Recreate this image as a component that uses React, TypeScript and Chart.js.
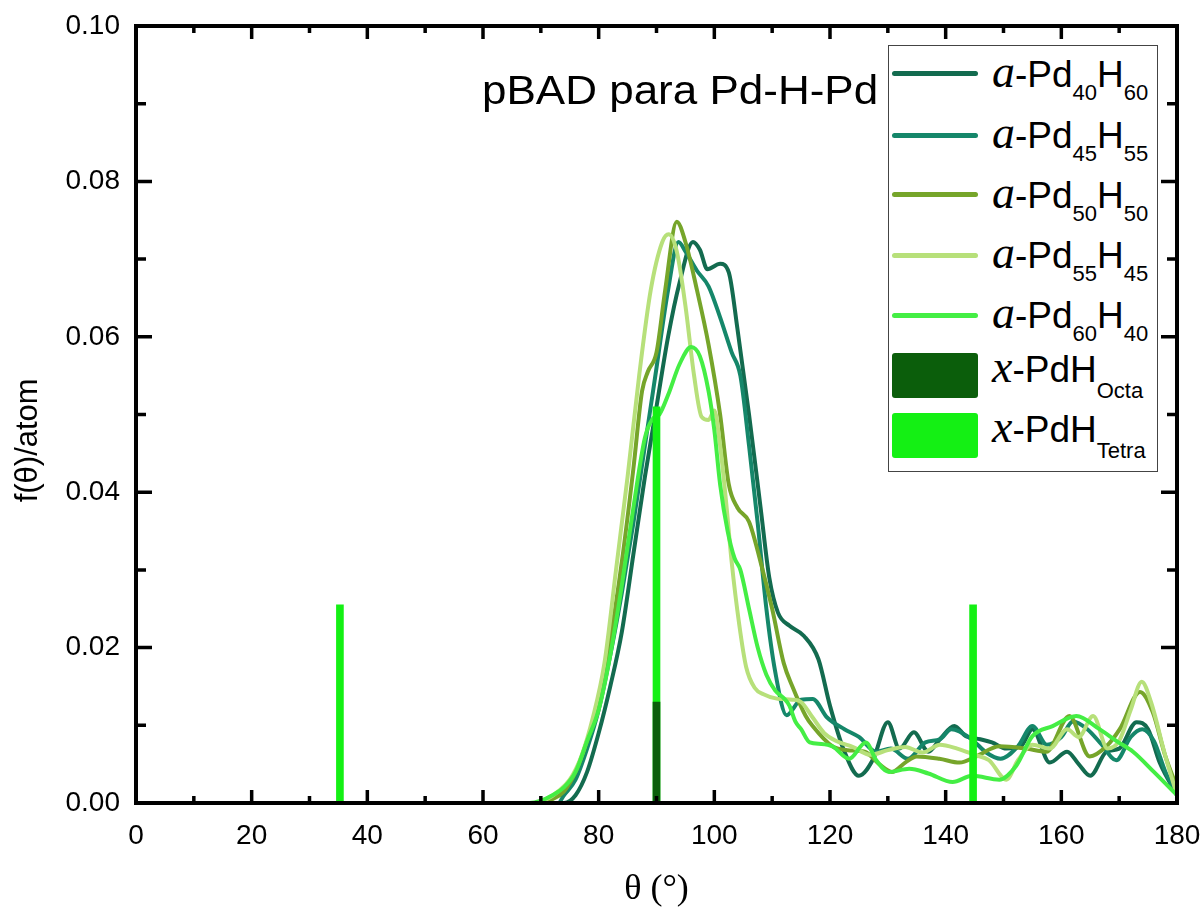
import React, { useEffect, useRef } from 'react';
import { Chart, registerables } from 'chart.js';

Chart.register(...registerables);

// ---- data ----
const pd40h60Angles = [0, 74, 76, 78, 80, 82, 84, 86, 88, 90, 92, 94, 96.3, 97.5, 98.8, 101, 102.5, 104, 106, 108, 109.5, 111, 113, 115.5, 118, 120, 122.5, 125, 127.5, 130, 132, 134.5, 137, 139, 141.5, 143.5, 146, 148, 150.5, 153, 155, 158, 161, 163, 165, 167.8, 170, 173, 175, 177, 180];
const pd40h60Values = [0, 0, 0.001, 0.004, 0.009, 0.015, 0.022, 0.032, 0.042, 0.051, 0.06, 0.067, 0.0722, 0.0712, 0.0687, 0.0694, 0.0683, 0.061, 0.05, 0.038, 0.029, 0.0245, 0.0228, 0.0215, 0.0185, 0.0125, 0.0066, 0.0035, 0.0057, 0.0104, 0.007, 0.0091, 0.0066, 0.0082, 0.0099, 0.0086, 0.0082, 0.0078, 0.007, 0.0073, 0.0095, 0.0052, 0.0066, 0.005, 0.0035, 0.0066, 0.007, 0.0104, 0.0095, 0.0052, 0.001];

const pd45h55Angles = [0, 73, 74, 76, 78, 80, 82, 84, 86, 88, 90, 92, 93.8, 95, 97, 99, 101, 103, 104.5, 106, 107.5, 109, 110.5, 112.5, 115, 117, 119.5, 122.5, 125, 128, 130.5, 133.5, 136.5, 139, 141, 144.5, 147, 149.5, 152.5, 155, 157.5, 160, 162, 164.5, 167, 169.5, 172, 174, 176, 178, 180];
const pd45h55Values = [0, 0, 0.001, 0.003, 0.007, 0.012, 0.019, 0.027, 0.036, 0.046, 0.056, 0.066, 0.0722, 0.071, 0.0685, 0.0665, 0.0625, 0.058, 0.055, 0.046, 0.036, 0.025, 0.017, 0.0113, 0.0133, 0.0134, 0.011, 0.0095, 0.0085, 0.0066, 0.007, 0.0057, 0.0078, 0.0082, 0.0095, 0.0082, 0.0065, 0.0057, 0.0073, 0.0099, 0.0075, 0.0085, 0.0105, 0.0095, 0.0075, 0.0055, 0.0085, 0.0095, 0.008, 0.004, 0.001];

const pd50h50Angles = [0, 70, 72, 74, 76, 78, 80, 82, 84, 86, 87.5, 88.5, 90, 91.5, 93.5, 95, 97, 99, 101, 102.5, 104, 106, 108, 110, 112, 113.5, 115.8, 117, 120.4, 123, 126, 128.5, 130.7, 133, 135, 138.9, 142.4, 145.3, 149.3, 153.9, 157.4, 161.4, 164.9, 167.8, 170.1, 173.6, 175.8, 178, 180];
const pd50h50Values = [0, 0, 0.0005, 0.0015, 0.004, 0.008, 0.013, 0.021, 0.031, 0.043, 0.053, 0.0555, 0.058, 0.066, 0.0748, 0.0722, 0.066, 0.059, 0.05, 0.041, 0.038, 0.0362, 0.031, 0.025, 0.018, 0.015, 0.0112, 0.0099, 0.0073, 0.0068, 0.0066, 0.005, 0.004, 0.0052, 0.006, 0.0057, 0.0052, 0.006, 0.0073, 0.007, 0.0066, 0.0112, 0.006, 0.0073, 0.0095, 0.0143, 0.0117, 0.006, 0.002];

const pd55h45Angles = [0, 69, 71, 73, 75, 77, 79, 81, 83, 85, 87, 89, 91, 92.1, 93.5, 95, 96.5, 97.8, 99, 100, 101, 102, 103, 104.3, 105.5, 107, 108.5, 111, 113.5, 115, 117, 119, 121, 124, 127, 130, 133, 136, 139, 142, 145, 147.5, 150.5, 152.5, 155, 158, 161, 163, 165.5, 168, 170, 172, 173.9, 175.5, 178, 180];
const pd55h45Values = [0, 0, 0.0005, 0.0015, 0.003, 0.006, 0.011, 0.018, 0.03, 0.042, 0.055, 0.066, 0.0722, 0.0732, 0.071, 0.064, 0.055, 0.0497, 0.0493, 0.0505, 0.046, 0.039, 0.031, 0.023, 0.0175, 0.0148, 0.014, 0.0134, 0.0133, 0.013, 0.011, 0.009, 0.008, 0.0072, 0.0062, 0.0068, 0.0072, 0.0065, 0.0075, 0.007, 0.0062, 0.0055, 0.003, 0.0055, 0.0075, 0.007, 0.0095, 0.0085, 0.0112, 0.007, 0.008, 0.012, 0.0156, 0.013, 0.006, 0.001];

const pd60h40Angles = [0, 68, 70, 72, 74, 76, 78, 80, 82, 84, 86, 88, 89.3, 90.5, 92, 94, 96, 97.5, 99, 100, 101, 102.3, 103.5, 104.5, 106, 107.5, 109, 110.5, 112, 113, 114, 115, 116.5, 118.5, 120.4, 123.3, 126.2, 128, 130.2, 133.7, 137, 141.2, 144.6, 149.3, 152.2, 155, 158.5, 162.6, 166.6, 169.5, 172.4, 176, 180];
const pd60h40Values = [0, 0, 0.0003, 0.001, 0.002, 0.004, 0.008, 0.012, 0.019, 0.028, 0.038, 0.047, 0.0494, 0.05, 0.0525, 0.0565, 0.0587, 0.0575, 0.053, 0.048, 0.041, 0.035, 0.0315, 0.03, 0.025, 0.02, 0.0165, 0.0145, 0.0135, 0.0125, 0.0105, 0.0095, 0.0078, 0.0076, 0.0073, 0.0057, 0.0078, 0.0055, 0.004, 0.0044, 0.0038, 0.0027, 0.0035, 0.003, 0.0048, 0.0086, 0.0099, 0.0112, 0.0095, 0.008, 0.0066, 0.004, 0.001];

const tetraAngles = [35.26, 90, 144.74];
const tetraValues = [0.0255, 0.051, 0.0255];
const octaAngles = [90];
const octaValues = [0.013];

const xMajorTicks = [0, 20, 40, 60, 80, 100, 120, 140, 160, 180];
const xMinorTicks = [10, 30, 50, 70, 90, 110, 130, 150, 170];
const yMajorTicks = [0, 0.02, 0.04, 0.06, 0.08, 0.1];
const yMinorTicks = [0.01, 0.03, 0.05, 0.07, 0.09];

const seriesLabels = ['a-Pd40H60', 'a-Pd45H55', 'a-Pd50H50', 'a-Pd55H45', 'a-Pd60H40', 'x-PdH Octa', 'x-PdH Tetra'];
const seriesColors = ['#136b4f', '#15876a', '#76a52a', '#b7e07a', '#44ee44', '#0b5e0b', '#14f014'];

const legendParts = [
  { pre: 'a', main: 'Pd', s1: '40', main2: 'H', s2: '60' },
  { pre: 'a', main: 'Pd', s1: '45', main2: 'H', s2: '55' },
  { pre: 'a', main: 'Pd', s1: '50', main2: 'H', s2: '50' },
  { pre: 'a', main: 'Pd', s1: '55', main2: 'H', s2: '45' },
  { pre: 'a', main: 'Pd', s1: '60', main2: 'H', s2: '40' },
  { pre: 'x', main: 'PdH', s1: 'Octa', main2: '', s2: '' },
  { pre: 'x', main: 'PdH', s1: 'Tetra', main2: '', s2: '' },
];

const pts = (xs: number[], ys: number[]) => xs.map((x, i) => ({ x, y: ys[i] }));

const SANS = '"Liberation Sans", Arial, sans-serif';
const SERIF = '"Liberation Serif", "Times New Roman", serif';

const frameTicks = {
  id: 'frameTicks',
  afterDatasetsDraw(chart: any) {
    const { ctx, chartArea, scales } = chart;
    const { left, right, top, bottom } = chartArea;
    const x = scales.x;
    const y = scales.y;
    ctx.save();
    ctx.strokeStyle = '#000';
    ctx.lineWidth = 3.5;
    ctx.beginPath();
    const xt = (v: number, len: number) => {
      const p = x.getPixelForValue(v);
      ctx.moveTo(p, bottom);
      ctx.lineTo(p, bottom - len);
      ctx.moveTo(p, top);
      ctx.lineTo(p, top + len);
    };
    const yt = (v: number, len: number) => {
      const p = y.getPixelForValue(v);
      ctx.moveTo(left, p);
      ctx.lineTo(left + len, p);
      ctx.moveTo(right, p);
      ctx.lineTo(right - len, p);
    };
    xMajorTicks.forEach((v) => xt(v, 13));
    xMinorTicks.forEach((v) => xt(v, 7));
    yMajorTicks.forEach((v) => yt(v, 16));
    yMinorTicks.forEach((v) => yt(v, 10));
    ctx.stroke();
    ctx.lineWidth = 4;
    ctx.strokeRect(left, top, right - left, bottom - top);
    ctx.restore();
  },
};

export default function App() {
  const ref = useRef<HTMLCanvasElement>(null);

  useEffect(() => {
    const lineDs = (i: number, xs: number[], ys: number[], order: number) => ({
      type: 'line' as const,
      label: seriesLabels[i],
      data: pts(xs, ys),
      borderColor: seriesColors[i],
      backgroundColor: seriesColors[i],
      borderWidth: 4,
      pointRadius: 0,
      cubicInterpolationMode: 'monotone' as const,
      fill: false,
      order,
    });
    const chart = new Chart(ref.current as HTMLCanvasElement, {
      type: 'line',
      data: {
        datasets: [
          lineDs(0, pd40h60Angles, pd40h60Values, 6),
          lineDs(1, pd45h55Angles, pd45h55Values, 5),
          lineDs(2, pd50h50Angles, pd50h50Values, 4),
          lineDs(3, pd55h45Angles, pd55h45Values, 3),
          lineDs(4, pd60h40Angles, pd60h40Values, 2),
          {
            type: 'bar',
            label: seriesLabels[6],
            data: pts(tetraAngles, tetraValues),
            backgroundColor: seriesColors[6],
            barThickness: 7,
            grouped: false,
            order: 1,
          } as any,
          {
            type: 'bar',
            label: seriesLabels[5],
            data: pts(octaAngles, octaValues),
            backgroundColor: seriesColors[5],
            barThickness: 7,
            grouped: false,
            order: 0,
          } as any,
        ],
      },
      options: {
        responsive: false,
        animation: false,
        devicePixelRatio: 1,
        layout: { padding: { top: 26, right: 27, left: 0, bottom: 0 } },
        plugins: { legend: { display: false }, tooltip: { enabled: false } },
        scales: {
          x: {
            type: 'linear',
            position: 'bottom',
            min: 0,
            max: 180,
            offset: false,
            grid: { display: false, drawTicks: false },
            border: { display: false },
            ticks: { stepSize: 20, color: '#000', padding: 16, font: { family: SANS, size: 28 }, maxRotation: 0 },
            title: { display: true, text: 'θ (°)', color: '#000', font: { family: SERIF, size: 36, lineHeight: 1.1 }, padding: 0 },
            afterFit: (s: any) => { s.height = 106; s.paddingLeft = 0; s.paddingRight = 0; },
          },
          y: {
            type: 'linear',
            position: 'left',
            min: 0,
            max: 0.1,
            grid: { display: false, drawTicks: false },
            border: { display: false },
            ticks: { stepSize: 0.02, color: '#000', padding: 16, font: { family: SANS, size: 28 }, callback: (v: any) => Number(v).toFixed(2) },
            title: { display: true, text: 'f(θ)/atom      ', color: '#000', font: { family: SANS, size: 31, lineHeight: 1.2 }, padding: { top: 10, bottom: 0 } },
            afterFit: (s: any) => { s.width = 136; s.paddingTop = 0; s.paddingBottom = 0; },
          },
        },
      } as any,
      plugins: [frameTicks],
    });
    return () => chart.destroy();
  }, []);

  const lineCenters = [73, 135, 194, 255, 315];
  const rectTops = [353, 413];
  const baselines = [87, 148.5, 208.5, 268.5, 328.5, 382, 442];

  return (
    <div style={{ position: 'absolute', left: 0, top: 0, width: 1204, height: 909, background: '#fff', overflow: 'hidden' }}>
      <canvas ref={ref} width={1204} height={909} style={{ position: 'absolute', left: 0, top: 0, width: 1204, height: 909 }} />
      <div
        style={{
          position: 'absolute', left: 482, top: 70, fontFamily: SANS, fontSize: 40, lineHeight: '40px',
          whiteSpace: 'nowrap', color: '#000', transform: 'scaleX(1.1)', transformOrigin: 'left top',
        }}
      >
        pBAD para Pd-H-Pd
      </div>
      <div style={{ position: 'absolute', left: 888, top: 45, width: 270, height: 427, border: '1px solid #444', background: '#fff', boxSizing: 'border-box' }} />
      {lineCenters.map((c, i) => (
        <div key={'l' + i} style={{ position: 'absolute', left: 892, top: c - 2.5, width: 86, height: 5, borderRadius: 2.5, background: seriesColors[i] }} />
      ))}
      {rectTops.map((t, i) => (
        <div key={'r' + i} style={{ position: 'absolute', left: 892, top: t, width: 86, height: 45, borderRadius: 3, background: seriesColors[5 + i] }} />
      ))}
      {legendParts.map((p, i) => (
        <div
          key={'t' + i}
          style={{
            position: 'absolute', left: 992, top: baselines[i] - 31.3, fontFamily: SANS, fontSize: 37,
            lineHeight: '37px', whiteSpace: 'nowrap', color: '#000',
          }}
        >
          <span style={{ fontFamily: SERIF, fontStyle: 'italic', fontSize: 46, lineHeight: 0 }}>{p.pre}</span>
          <span>-{p.main}</span>
          <span style={{ fontSize: 22, lineHeight: 0, position: 'relative', top: i < 5 ? 13 : 16 }}>{p.s1}</span>
          {p.main2 ? <span>{p.main2}</span> : null}
          {p.s2 ? <span style={{ fontSize: 22, lineHeight: 0, position: 'relative', top: 13 }}>{p.s2}</span> : null}
        </div>
      ))}
    </div>
  );
}
